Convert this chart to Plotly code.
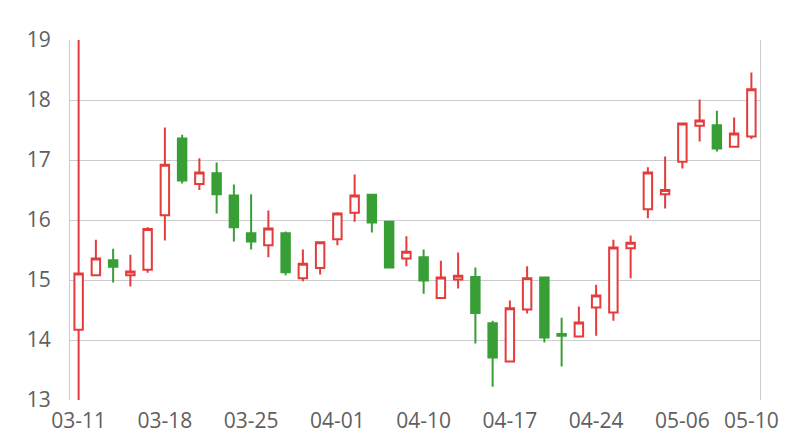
import plotly.graph_objects as go

dates = ["03-11", "03-12", "03-13", "03-14", "03-15",
         "03-18", "03-19", "03-20", "03-21", "03-22",
         "03-25", "03-26", "03-27", "03-28", "03-29",
         "04-01", "04-02", "04-03", "04-04", "04-09",
         "04-10", "04-11", "04-12", "04-15", "04-16",
         "04-17", "04-18", "04-19", "04-22", "04-23",
         "04-24", "04-25", "04-26", "04-29", "04-30",
         "05-06", "05-07", "05-08", "05-09", "05-10"]

open_ = [14.17, 15.08, 15.33, 15.08, 15.17, 16.08, 17.36, 16.60, 16.78, 16.41,
         15.78, 15.58, 15.78, 15.03, 15.20, 15.68, 16.12, 16.42, 15.97, 15.36,
         15.38, 14.70, 15.01, 15.05, 14.28, 13.64, 14.51, 15.04, 14.10, 14.06,
         14.54, 14.46, 15.53, 16.18, 16.43, 16.97, 17.57, 17.58, 17.22, 17.39]
close = [15.11, 15.36, 15.22, 15.14, 15.85, 16.92, 16.66, 16.79, 16.43, 15.88,
         15.64, 15.86, 15.13, 15.27, 15.63, 16.11, 16.41, 15.96, 15.21, 15.47,
         14.99, 15.04, 15.07, 14.45, 13.71, 14.53, 15.03, 14.04, 14.07, 14.29,
         14.74, 15.54, 15.62, 16.79, 16.50, 17.61, 17.66, 17.19, 17.44, 18.18]
high = [19.60, 15.67, 15.52, 15.42, 15.88, 17.54, 17.42, 17.03, 16.96, 16.59,
        16.43, 16.16, 15.81, 15.51, 15.63, 16.13, 16.76, 16.42, 15.97, 15.73,
        15.51, 15.32, 15.46, 15.21, 14.32, 14.66, 15.23, 15.04, 14.37, 14.56,
        14.92, 15.67, 15.74, 16.88, 17.06, 17.62, 18.01, 17.82, 17.71, 18.46]
low = [12.40, 15.08, 14.96, 14.89, 15.12, 15.66, 16.61, 16.50, 16.11, 15.64,
       15.51, 15.38, 15.08, 14.98, 15.09, 15.58, 15.97, 15.79, 15.21, 15.23,
       14.77, 14.69, 14.86, 13.94, 13.22, 13.64, 14.44, 13.96, 13.56, 14.06,
       14.07, 14.32, 15.03, 16.03, 16.19, 16.86, 17.31, 17.14, 17.22, 17.35]

tick_labels = ["03-11", "03-18", "03-25", "04-01", "04-10", "04-17", "04-24", "05-06", "05-10"]
y_ticks = [13, 14, 15, 16, 17, 18, 19]

RED = "#E43B3B"
GREEN = "#389E36"

fig = go.Figure(go.Candlestick(
    x=dates, open=open_, high=high, low=low, close=close,
    increasing=dict(line=dict(color=RED, width=2), fillcolor="white"),
    decreasing=dict(line=dict(color=GREEN, width=2), fillcolor=GREEN),
    whiskerwidth=0,
    hoverinfo="x+y",
))

font = dict(family="Open Sans, Segoe UI, Liberation Sans, sans-serif", size=21, color="#606060")

fig.update_layout(
    width=800, height=440,
    margin=dict(l=70, r=40, t=40, b=40, autoexpand=False),
    paper_bgcolor="white", plot_bgcolor="white",
    showlegend=False,
    font=font,
    xaxis=dict(
        type="category", rangeslider=dict(visible=False),
        tickmode="array", tickvals=tick_labels, ticktext=tick_labels,
        showgrid=False, showline=False, zeroline=False,
        ticks="outside", ticklen=2, tickcolor="rgba(0,0,0,0)",
        tickfont=font, range=[-0.5, 39.5], automargin=False,
    ),
    yaxis=dict(
        range=[13, 19], tickvals=y_ticks,
        showgrid=True, gridcolor="#CCCCCC", gridwidth=1,
        showline=True, linecolor="#CCCCCC", linewidth=1, mirror=True,
        zeroline=False,
        ticks="outside", ticklen=14, tickcolor="rgba(0,0,0,0)",
        tickfont=font, automargin=False,
    ),
)

fig.write_html(
    "out.html",
    config={"displayModeBar": False},
    post_script="document.body.style.margin='0';document.body.style.overflow='hidden';",
)
